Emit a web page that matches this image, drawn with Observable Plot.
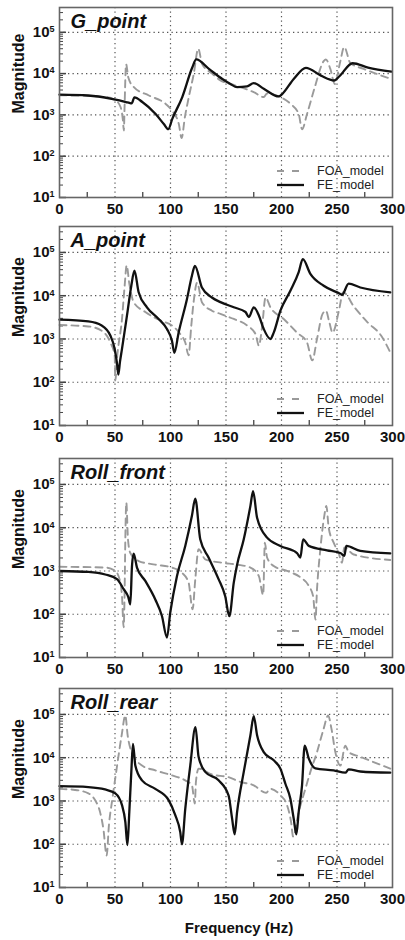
<!DOCTYPE html>
<html><head><meta charset="utf-8">
<script src="https://cdn.jsdelivr.net/npm/d3@7"></script>
<script src="https://cdn.jsdelivr.net/npm/@observablehq/plot@0.6"></script>
<style>
body{margin:0;background:#fff;}
#root{position:relative;width:405px;height:940px;overflow:hidden;background:#fff;}
</style></head><body><div id="root"></div>
<script>
// ---- tick / label arrays ----
const xTicks = [0, 50, 100, 150, 200, 250, 300];
const xGrid = [50, 100, 150, 200, 250];
const xMinor = [25, 75, 125, 175, 225, 275];
const yDecades = [10, 100, 1000, 10000, 100000];
const yGrid = [100, 1000, 10000, 100000];
const panelTitles = ["G_point", "A_point", "Roll_front", "Roll_rear"];
const seriesNames = ["FOA_model", "FE_model"];
const yTitle = "Magnitude";
const xTitle = "Frequency (Hz)";

// ---- data: [frequency Hz, magnitude] ----
const gPointFOA = [[0,3000],[41.4,2700],[50.4,2250],[55,1550],[57,800],[58,420],[58.6,1500],[60,17000],[62,8000],[67,4700],[80.5,2950],[95.5,1860],[101.5,1260],[107.5,600],[110,275],[113,900],[116.5,2700],[121,10000],[125,40000],[128.5,17000],[137.5,10000],[145,6800],[154,5600],[163,4700],[175,3550],[184,2700],[187,3300],[199,2700],[208,1860],[215.5,1050],[218.5,450],[223,1050],[230,4700],[238,20000],[240,22000],[244,13000],[248,5600],[253,20000],[256.5,44000],[262,18000],[274,13000],[299,7400]];
const gPointFE = [[0,3100],[26,2950],[47,2450],[60,2050],[63,1950],[65,1900],[67.5,2650],[74.6,2050],[86.6,1050],[94,600],[98,450],[101.6,800],[110.6,2700],[119.6,14000],[123.2,22000],[134.6,13000],[146.7,7400],[154,5600],[160,4700],[169,4900],[175,5900],[184,4300],[197.6,2800],[200.6,3200],[211,7400],[222,13800],[235.6,8900],[247.6,6800],[252,8500],[264,17800],[278,14000],[299,11200]];

const aPointFOA = [[0,2100],[26,1950],[38,1550],[45.8,830],[49.7,420],[50.3,110],[51.8,350],[56.3,2900],[58.7,17000],[60.5,50000],[62.9,19000],[66.8,7100],[77.3,4200],[92.3,2600],[101.3,2050],[108.8,1300],[113.3,830],[116.3,420],[118.7,2000],[120.8,7100],[124,20000],[128.3,7100],[137.3,4500],[145,3800],[157,2900],[169,2050],[176.6,1300],[179.6,700],[182.6,2000],[185.6,9100],[190,5400],[202,2900],[214,1400],[223,830],[227.7,320],[232,1000],[237,3800],[240,4500],[243,2500],[246,1400],[252,4900],[255.5,12000],[265.7,5400],[277.7,2400],[289.7,1200],[298.7,450]];
const aPointFE = [[0,2800],[26,2550],[38,2050],[45.8,1200],[49.7,590],[52,250],[53,150],[54.5,300],[56.3,590],[60.8,3500],[64.7,17000],[67.5,38000],[71.3,12000],[78.8,5400],[89.3,2900],[96.8,1700],[101.3,910],[103.5,480],[107.3,1400],[114.8,8300],[119.3,29000],[122,49000],[128.3,15500],[137.3,9100],[145,7100],[157,5400],[167.6,4200],[170.6,3200],[175,5400],[179.6,3500],[184,1700],[190,1000],[193,1400],[199,4500],[208,13000],[215.5,35000],[219.2,70000],[226,32000],[238,17000],[253,11000],[254.5,10500],[260.5,19000],[271,15500],[298,12000]];

const rollFrontFOA = [[0,1250],[41.2,1200],[50.3,1000],[54.8,540],[56.3,260],[57.8,50],[58.7,380],[59.3,5400],[60.2,38000],[61.7,5400],[63.8,2600],[71.3,1700],[86.3,1400],[101.3,1200],[110.3,910],[116.3,540],[119.9,130],[122.3,630],[125.3,3200],[131.3,1860],[146.3,1550],[160,1400],[172,1200],[179.6,760],[183.5,280],[185,4500],[187,2050],[193,1300],[205,1000],[217,710],[224.6,450],[228.5,260],[230.6,75],[232,380],[235,3200],[238.6,19000],[240.4,32000],[242.5,10000],[247,4500],[251.5,2600],[254.5,1550],[256.6,3500],[265,2400],[298,1800]];
const rollFrontFE = [[0,1000],[26,950],[41.2,830],[51.8,650],[57.8,380],[62,250],[63.8,170],[65.3,1300],[66.8,2500],[69.8,1200],[77.3,590],[86.3,220],[92.3,91],[96.8,29],[99.8,110],[105.8,760],[113.3,3800],[119.3,19000],[122.3,47000],[126.8,5400],[134.3,2050],[143.3,650],[149.3,260],[153,90],[157,540],[160,1400],[166,5400],[172,32000],[174.4,70000],[178,17000],[187,5900],[199,3800],[214,2600],[217,2050],[219.5,5400],[224.6,3800],[241,3000],[253,2600],[256.6,2250],[258.4,3800],[271,2900],[298,2550]];

const rollRearFOA = [[0,1900],[14,1800],[26,1500],[32,1050],[36.5,560],[39.5,230],[42.5,55],[44.5,270],[47.6,1100],[51.5,5600],[56,33000],[59.3,95000],[61.4,33000],[65,13500],[74.3,6600],[86.3,5100],[101.3,3900],[113.3,3000],[119.3,2300],[121.9,870],[122.9,2750],[125.3,5600],[137.3,4100],[152.3,3550],[163,2750],[175,2300],[184,1600],[186,1550],[190,1900],[199,1350],[205,800],[208.6,330],[210.5,150],[215.5,560],[221.5,1900],[226,4700],[232,13500],[238,47000],[242,95000],[245,47000],[248.5,13500],[253,6600],[257.5,19000],[260.5,13500],[271,10500],[298,5600]];
const rollRearFE = [[0,2200],[26,2100],[41,1850],[50.3,1500],[56.3,800],[59.3,330],[61.2,95],[62.9,560],[64.7,4700],[66.2,21000],[68.3,6600],[74.3,3000],[86.3,1900],[98.3,1050],[104.3,470],[108.8,190],[110.3,100],[113.3,660],[117.8,6600],[122.5,51000],[125.3,10500],[131.3,4700],[143.3,3000],[152.3,1350],[155.5,390],[157.8,170],[160,560],[166,4700],[172,33000],[175,91000],[178,33000],[184,13500],[193,8700],[199,5600],[203.5,2500],[208,1120],[211,390],[213.4,170],[215.5,560],[218.5,2300],[220.9,19000],[224.6,9500],[230.6,5700],[247,5100],[257.5,4500],[260.5,5400],[271,4800],[298,4500]];

const foaSeries = [gPointFOA, aPointFOA, rollFrontFOA, rollRearFOA];
const feSeries = [gPointFE, aPointFE, rollFrontFE, rollRearFE];

// ---- layout ----
const panelTop = [7, 226, 458, 688];
const panelHeight = [190, 199, 199, 199];
const yMax = Math.pow(10, 5.6);
const yMinor = [];
for (let k = 1; k <= 5; k++) for (let m = 2; m <= 9; m++) if (m * 10 ** k <= yMax) yMinor.push(m * 10 ** k);

const FONT = "'Liberation Sans', Arial, Helvetica, sans-serif";
const root = document.getElementById("root");
const toRows = arr => arr.map(([f, m]) => ({f, m}));

panelTitles.forEach((title, i) => {
  const H = panelHeight[i];
  const last = i === panelTitles.length - 1;
  const mt = 8, mb = last ? 56 : 30, ml = 59, mr = 13;
  const W = 405;
  const pw = W - ml - mr;
  const gridStyle = {stroke: "#555", strokeOpacity: 1, strokeWidth: 1.2, strokeDasharray: "1.3,3.2"};
  const marks = [
    Plot.gridX(xGrid, gridStyle),
    Plot.gridY(yGrid, gridStyle),
    Plot.tickX(xMinor, {x: d => d, insetTop: H - 5, stroke: "#444", strokeWidth: 1.3}),
    Plot.tickY(yMinor, {y: d => d, insetRight: pw - 4, stroke: "#444", strokeWidth: 1}),
    Plot.tickY(yDecades, {y: d => d, insetRight: pw - 7, stroke: "#444", strokeWidth: 1.5}),
    Plot.line(toRows(foaSeries[i]), {x: "f", y: "m", curve: "monotone-x", stroke: "#9a9a9a", strokeWidth: 1.9, strokeDasharray: "7,5"}),
    Plot.line(toRows(feSeries[i]), {x: "f", y: "m", curve: "monotone-x", stroke: "#111", strokeWidth: 2.3}),
    Plot.frame({stroke: "#666", strokeWidth: 1.6}),
    Plot.axisX(xTicks, {tickSize: 0, tickPadding: 6, fontSize: 15, fontWeight: "bold", label: null}),
    Plot.axisY(yDecades, {tickSize: 0, tickPadding: 5, fontSize: 15, fontWeight: "bold", label: null,
      tickFormat: d => String(Math.round(Math.log10(d)))}),
    Plot.text([title], {frameAnchor: "top-left", dx: 11, dy: 20, lineAnchor: "bottom", textAnchor: "start",
      fontSize: 20, fontWeight: "bold", fontStyle: "italic", fill: "#111"}),
    Plot.text([yTitle], {frameAnchor: "left", dx: -41, dy: 11, rotate: -90, fontSize: 16, fontWeight: "bold", fill: "#111"})
  ];
  if (last) marks.push(Plot.text([xTitle], {frameAnchor: "bottom", dx: 13, dy: 45, fontSize: 15, fontWeight: "bold", fill: "#111"}));

  const chart = Plot.plot({
    width: W, height: H + mt + mb,
    marginTop: mt, marginBottom: mb, marginLeft: ml, marginRight: mr,
    x: {domain: [0, 300]},
    y: {type: "log", domain: [10, yMax]},
    style: {background: "transparent", fontFamily: FONT, color: "#111", overflow: "visible"},
    marks
  });
  chart.style.position = "absolute";
  chart.style.left = "0px";
  chart.style.top = (panelTop[i] - mt) + "px";
  root.appendChild(chart);

  // superscript exponents on y tick labels
  d3.select(chart).selectAll('g[aria-label="y-axis tick label"] text').each(function() {
    const e = this.textContent;
    const t = d3.select(this);
    t.text("10");
    t.append("tspan").attr("dy", "-0.55em").attr("font-size", "9px").text(e);
  });

  // legend
  const bottom = mt + H;
  const lg = d3.select(chart).append("g").attr("font-family", FONT).attr("text-anchor", "start");
  const rows = [
    {name: seriesNames[0], stroke: "#9a9a9a", dash: "7,8", w: 1.9, dy: -26},
    {name: seriesNames[1], stroke: "#111", dash: null, w: 2.3, dy: -12}
  ];
  rows.forEach(r => {
    lg.append("line").attr("x1", 277).attr("x2", 304).attr("y1", bottom + r.dy).attr("y2", bottom + r.dy)
      .attr("stroke", r.stroke).attr("stroke-width", r.w).attr("stroke-dasharray", r.dash);
    lg.append("text").attr("x", 317).attr("y", bottom + r.dy).attr("dy", "0.35em").attr("text-anchor", "start")
      .attr("font-size", 12.5).attr("fill", "#222").text(r.name);
  });
});
</script>
</body></html>
